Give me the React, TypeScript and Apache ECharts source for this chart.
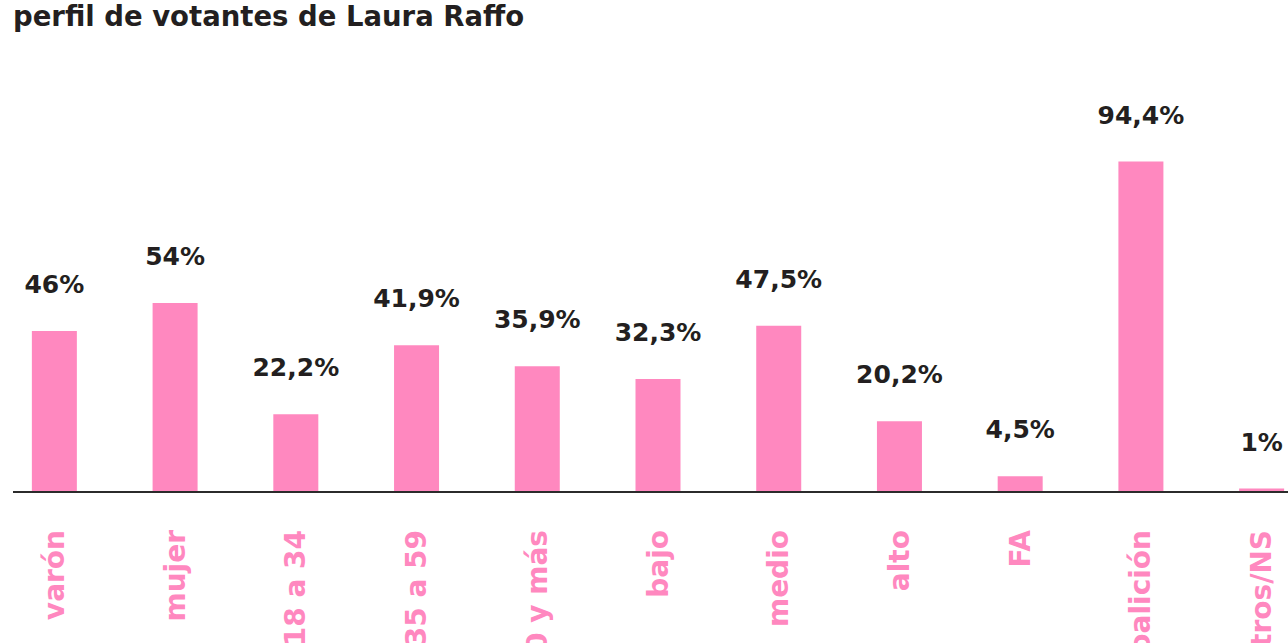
import React, { useEffect, useRef } from "react";
import * as echarts from "echarts";

const TITLE = "perfil de votantes de Laura Raffo";
const categories = ["varón", "mujer", "18 a 34", "35 a 59", "60 y más", "bajo", "medio", "alto", "FA", "coalición", "otros/NS"];
const values = [46, 54, 22.2, 41.9, 35.9, 32.3, 47.5, 20.2, 4.5, 94.4, 1];

const PINK = "#ff88bf";
const DARK = "#231f20";
const FONT = "'DejaVu Sans', 'Noto Sans', sans-serif";

export default function App() {
  const ref = useRef<HTMLDivElement>(null);
  useEffect(() => {
    document.body.style.margin = "0";
    const chart = echarts.init(ref.current!, null, { renderer: "svg" });
    chart.setOption({
      animation: false,
      backgroundColor: "#ffffff",
      title: {
        text: TITLE,
        left: 8,
        top: -3,
        textStyle: { fontFamily: FONT, fontSize: 27.5, fontWeight: "bold", color: DARK },
      },
      grid: { left: -6, right: -34, top: 142, bottom: 151, containLabel: false, outerBoundsMode: "none" },
      xAxis: {
        type: "category",
        data: categories,
        axisLine: { show: false },
        axisTick: { show: false },
        axisLabel: {
          rotate: 90,
          margin: 38,
          interval: 0,
          color: PINK,
          fontFamily: FONT,
          fontSize: 28,
          fontWeight: "bold",
        },
      },
      yAxis: { type: "value", min: 0, max: 100, show: false, splitLine: { show: false } },
      graphic: [
        {
          type: "line",
          shape: { x1: 13, y1: 492, x2: 1288, y2: 492 },
          style: { stroke: "#2b2b2b", lineWidth: 2 },
          z: 10,
        },
      ],
      series: [
        {
          type: "bar",
          data: values,
          barWidth: 45,
          itemStyle: { color: PINK },
          label: {
            show: true,
            position: "top",
            distance: 34,
            color: DARK,
            fontFamily: FONT,
            fontSize: 25,
            fontWeight: "bold",
            formatter: (p: any) => String(p.value).replace(".", ",") + "%",
          },
        },
      ],
    });
    return () => chart.dispose();
  }, []);
  return <div ref={ref} style={{ width: 1288, height: 643 }} />;
}
